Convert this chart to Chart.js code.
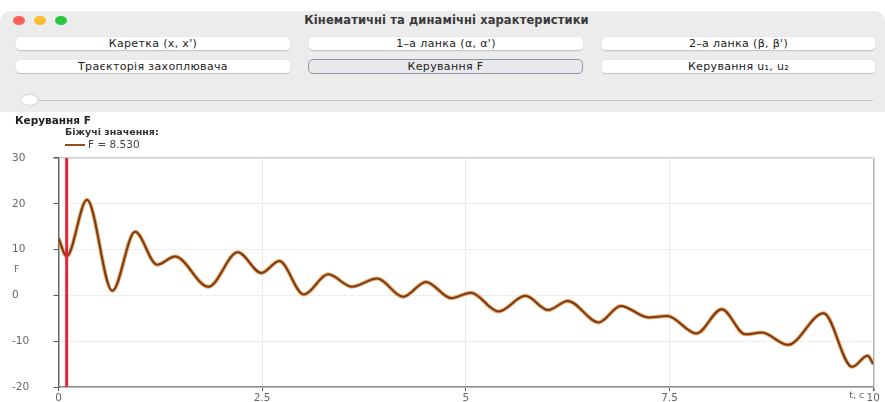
<!DOCTYPE html>
<html lang="uk">
<head>
<meta charset="utf-8">
<title>Керування F</title>
<script src="https://cdn.jsdelivr.net/npm/chart.js@4.4.1/dist/chart.umd.min.js"></script>
<style>
  html, body { margin: 0; padding: 0; width: 885px; height: 402px; overflow: hidden; background: #fff;
    font-family: "DejaVu Sans", sans-serif; }
  .win { position: absolute; left: 0; top: 11px; width: 885px; height: 101px; background: #ececec;
    border-top-left-radius: 10px; border-top-right-radius: 10px; }
  .light { position: absolute; top: 5px; width: 12px; height: 9px; border-radius: 50%; }
  .wtitle { position: absolute; left: 0; width: 885px; top: 2px; text-align: center; padding-left: 8px; box-sizing: border-box;
    font-weight: bold; font-size: 11.5px; letter-spacing: 0.1px; color: #3a3a3a; line-height: 14px; }
  .btn { position: absolute; height: 13px; background: #fff; border-radius: 4px; box-shadow: 0 0.5px 1px rgba(0,0,0,0.18);
    display: flex; align-items: center; justify-content: center; font-size: 11px; letter-spacing: 0.35px;
    color: #1c1c1c; white-space: nowrap; }
  .btn.sel { background: #e9e9eb; border: 1px solid #8c97a6; box-shadow: none; height: 13px; border-radius: 5px; }
  .track { position: absolute; left: 30px; top: 88.5px; width: 843px; height: 1.5px; background: #c4c4c4; }
  .knob { position: absolute; left: 21px; top: 84px; width: 17px; height: 10px; border-radius: 50%; background: #fff;
    box-shadow: 0 0 1.5px rgba(0,0,0,0.35); }
  #wrap { position: absolute; left: 0; top: 112px; width: 885px; height: 290px; background: #fff; }
</style>
</head>
<body>
<div class="win">
  <div class="light" style="left:13px;background:#fe5f57"></div>
  <div class="light" style="left:34px;background:#febc2e"></div>
  <div class="light" style="left:55px;background:#28c840"></div>
  <div class="wtitle">Кінематичні та динамічні характеристики</div>
  <div class="btn" style="left:16px;top:26px;width:274px">Каретка (x, x')</div>
  <div class="btn" style="left:309px;top:26px;width:274px">1–а ланка (α, α')</div>
  <div class="btn" style="left:602px;top:26px;width:273px">2–а ланка (β, β')</div>
  <div class="btn" style="left:16px;top:48.5px;width:274px">Траєкторія захоплювача</div>
  <div class="btn sel" style="left:308px;top:48px;width:273px">Керування F</div>
  <div class="btn" style="left:602px;top:48.5px;width:273px">Керування u₁, u₂</div>
  <div class="track"></div>
  <div class="knob"></div>
</div>
<div id="wrap"><canvas id="chart" width="885" height="290"></canvas></div>
<script>
// Control force F(t) over the simulated interval
const tValues = [0.00, 0.10, 0.35, 0.66, 0.94, 1.21, 1.43, 1.84, 2.20, 2.49, 2.71, 3.01, 3.31, 3.60, 3.91,
                 4.23, 4.51, 4.82, 5.06, 5.40, 5.73, 6.01, 6.25, 6.63, 6.90, 7.24, 7.47, 7.83, 8.14, 8.43,
                 8.63, 8.95, 9.39, 9.74, 9.93, 10.00];
const fValues = [12.5, 8.53, 20.9, 1.0, 13.9, 6.7, 8.5, 1.9, 9.4, 4.9, 7.5, 0.2, 4.6, 1.9, 3.7,
                 -0.3, 2.95, -0.6, 0.6, -3.5, -0.1, -3.2, -1.2, -5.9, -2.3, -4.8, -4.5, -8.3, -3.0, -8.5,
                 -8.1, -10.8, -3.9, -15.6, -13.2, -15.0];

// Current time marker (index into the series above)
const cursorIndex = 1;

// Axis ranges and tick labels
const xTickValues = [0, 2.5, 5, 7.5, 10];
const xTickLabels = ['0', '2.5', '5', '7.5', '10'];
const yTickValues = [-20, -10, 0, 10, 20, 30];
const yTickLabels = ['-20', '-10', '0', '10', '20', '30'];

const chartTitle = 'Керування F';
const legendTitle = 'Біжучі значення:';
const seriesName = 'F';
const xTitle = 't, c';
const yTitle = 'F';

const points = tValues.map((t, i) => ({ x: t, y: fValues[i] }));
const cursorT = tValues[cursorIndex];
const cursorLabel = seriesName + ' = ' + fValues[cursorIndex].toFixed(3);
const yMin = yTickValues[0], yMax = yTickValues[yTickValues.length - 1];
const xMin = xTickValues[0], xMax = xTickValues[xTickValues.length - 1];

const FONT = '"DejaVu Sans", sans-serif';

// Title, running-value legend and axis captions
const captions = {
  id: 'captions',
  afterDraw(chart) {
    const { ctx, chartArea: a, scales: { x } } = chart;
    ctx.save();
    ctx.textBaseline = 'middle';
    ctx.textAlign = 'left';
    ctx.fillStyle = '#222';
    ctx.font = 'bold 10.5px ' + FONT;
    ctx.fillText(chartTitle, 15, 9.5);
    ctx.fillStyle = '#333';
    ctx.font = 'bold 9.5px ' + FONT;
    ctx.fillText(legendTitle, 65, 20.5);
    ctx.strokeStyle = '#9a4a1c';
    ctx.lineWidth = 2;
    ctx.beginPath(); ctx.moveTo(65, 33); ctx.lineTo(85, 33); ctx.stroke();
    ctx.fillStyle = '#444';
    ctx.font = '10.5px ' + FONT;
    ctx.fillText(cursorLabel, 88, 33);
    ctx.fillStyle = '#666';
    ctx.font = '9.5px ' + FONT;
    ctx.fillText(yTitle, 14, (a.top + a.bottom) / 2 - 3);
    ctx.textAlign = 'right';
    ctx.fillText(xTitle, x.getPixelForValue(xMax) - 9, a.bottom + 9);
    ctx.restore();
  }
};

new Chart(document.getElementById('chart'), {
  type: 'line',
  data: {
    datasets: [
      { label: seriesName, data: points, borderColor: '#7a3a12', borderWidth: 2,
        cubicInterpolationMode: 'monotone', pointRadius: 0, fill: false, order: 1 },
      { label: seriesName + ' halo', data: points, borderColor: 'rgba(226,140,60,0.75)', borderWidth: 4,
        cubicInterpolationMode: 'monotone', pointRadius: 0, fill: false, order: 2 },
      { label: 'cursor', data: [{ x: cursorT, y: yMin }, { x: cursorT, y: yMax }],
        borderColor: '#e3263a', borderWidth: 3, pointRadius: 0, fill: false, order: 0 }
    ]
  },
  options: {
    responsive: false,
    animation: false,
    devicePixelRatio: 1,
    layout: { padding: { top: 46, left: 12, right: 11.7, bottom: 0 } },
    plugins: { legend: { display: false }, title: { display: false }, tooltip: { enabled: false } },
    scales: {
      x: {
        type: 'linear', min: xMin, max: xMax,
        afterFit(s) { s.height = 15; },
        afterBuildTicks(s) { s.ticks = xTickValues.map(v => ({ value: v })); },
        ticks: {
          padding: 1, color: '#666', font: { family: FONT, size: 10.5 }, maxRotation: 0,
          callback: (v) => xTickLabels[xTickValues.indexOf(v)]
        },
        grid: {
          color: (c) => c.tick && c.tick.value === xMax ? '#b4b4b4' : '#ebebeb',
          lineWidth: (c) => c.tick && c.tick.value === xMax ? 1.5 : 1,
          tickColor: '#555', tickLength: 4
        },
        border: { color: '#8a8a8a', width: 1.5 }
      },
      y: {
        type: 'linear', min: yMin, max: yMax,
        afterFit(s) { s.width = 46.5; },
        afterBuildTicks(s) { s.ticks = yTickValues.map(v => ({ value: v })); },
        ticks: {
          crossAlign: 'far', color: '#666', font: { family: FONT, size: 10.5 },
          callback: (v) => yTickLabels[yTickValues.indexOf(v)]
        },
        grid: {
          color: (c) => c.tick && c.tick.value === yMax ? '#cdcdcd' : '#eeeeee',
          lineWidth: (c) => c.tick && c.tick.value === yMax ? 1.5 : 1,
          tickColor: '#555', tickLength: 5
        },
        border: { color: '#666', width: 1.5 }
      }
    }
  },
  plugins: [captions]
});
</script>
</body>
</html>
